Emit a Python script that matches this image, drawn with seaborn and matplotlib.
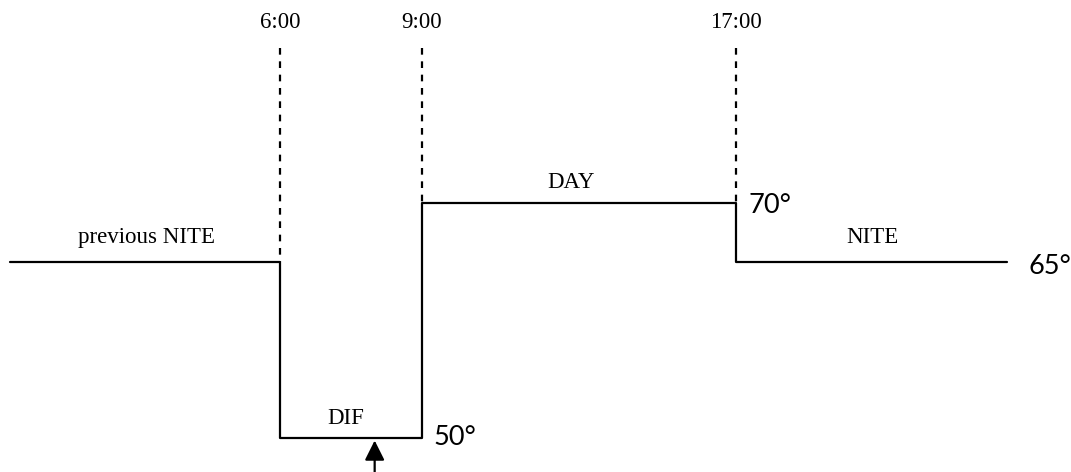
import numpy as np
import pandas as pd
import matplotlib
matplotlib.use('Agg')
import matplotlib.pyplot as plt
import seaborn as sns

# schedule: hour of each change and the set temperature from then on
hours = [0, 6, 9, 17, 24]
temps = [65, 50, 70, 65, 65]
period_names = ['previous NITE', 'DIF', 'DAY', 'NITE']
time_labels = ['6:00', '9:00', '17:00']
time_hours = [6, 9, 17]
temp_labels = ['70°', '65°', '50°']
arrow_hour = 8

df = pd.DataFrame({'hour': hours, 'temp': temps})

sns.set_style('white')

# the sketch is not drawn to a linear time scale, so map hours piecewise
knot_h = [-10, 0, 6, 9, 17, 24, 40]
knot_px = [-440, 10, 280, 422, 736, 1007, 1625]
fwd = lambda h: np.interp(h, knot_h, knot_px)
inv = lambda p: np.interp(p, knot_px, knot_h)

fig = plt.figure(figsize=(10.71, 4.72), dpi=100)
ax = fig.add_axes([0, 0, 1, 1])
ax.set_xscale('function', functions=(fwd, inv))

sns.lineplot(data=df, x='hour', y='temp', drawstyle='steps-post',
             color='black', lw=1.6, ax=ax)

# dashed markers from the top of the sketch down to the line
top = 83.2
for h, lvl in zip(time_hours, [65, 70, 70]):
    ax.plot([h, h], [top, lvl], color='black', lw=1.6, ls=(0, (3.0, 3.0)))

ax.annotate('', xy=(arrow_hour, 50), xytext=(arrow_hour, 46.5),
            arrowprops=dict(arrowstyle='-|>', color='black', lw=1.6,
                            mutation_scale=30),
            annotation_clip=False)

ax.set_xlim(inv(0), inv(1071))
ax.set_ylim(47.08, 87.28)
ax.axis('off')

serif = dict(family='Liberation Serif', fontsize=16.5, color='black')
sans = dict(family='Lato', fontsize=19.5, color='black')

for lab, h in zip(time_labels, time_hours):
    ax.text(fwd(h) / 1071, 1 - 28 / 472, lab, ha='center', va='baseline',
            transform=ax.transAxes, **serif)

name_pos = [(147, 243), (346, 424), (571, 188), (872, 243)]
for lab, (px, py) in zip(period_names, name_pos):
    ax.text(px / 1071, 1 - py / 472, lab, ha='center', va='baseline',
            transform=ax.transAxes, **serif)

temp_pos = [(748, 213), (1028, 274), (433, 445)]
for lab, (px, py) in zip(temp_labels, temp_pos):
    ax.text(px / 1071, 1 - py / 472, lab, ha='left', va='baseline',
            transform=ax.transAxes, **sans)

fig.savefig('out.png', dpi=100)
